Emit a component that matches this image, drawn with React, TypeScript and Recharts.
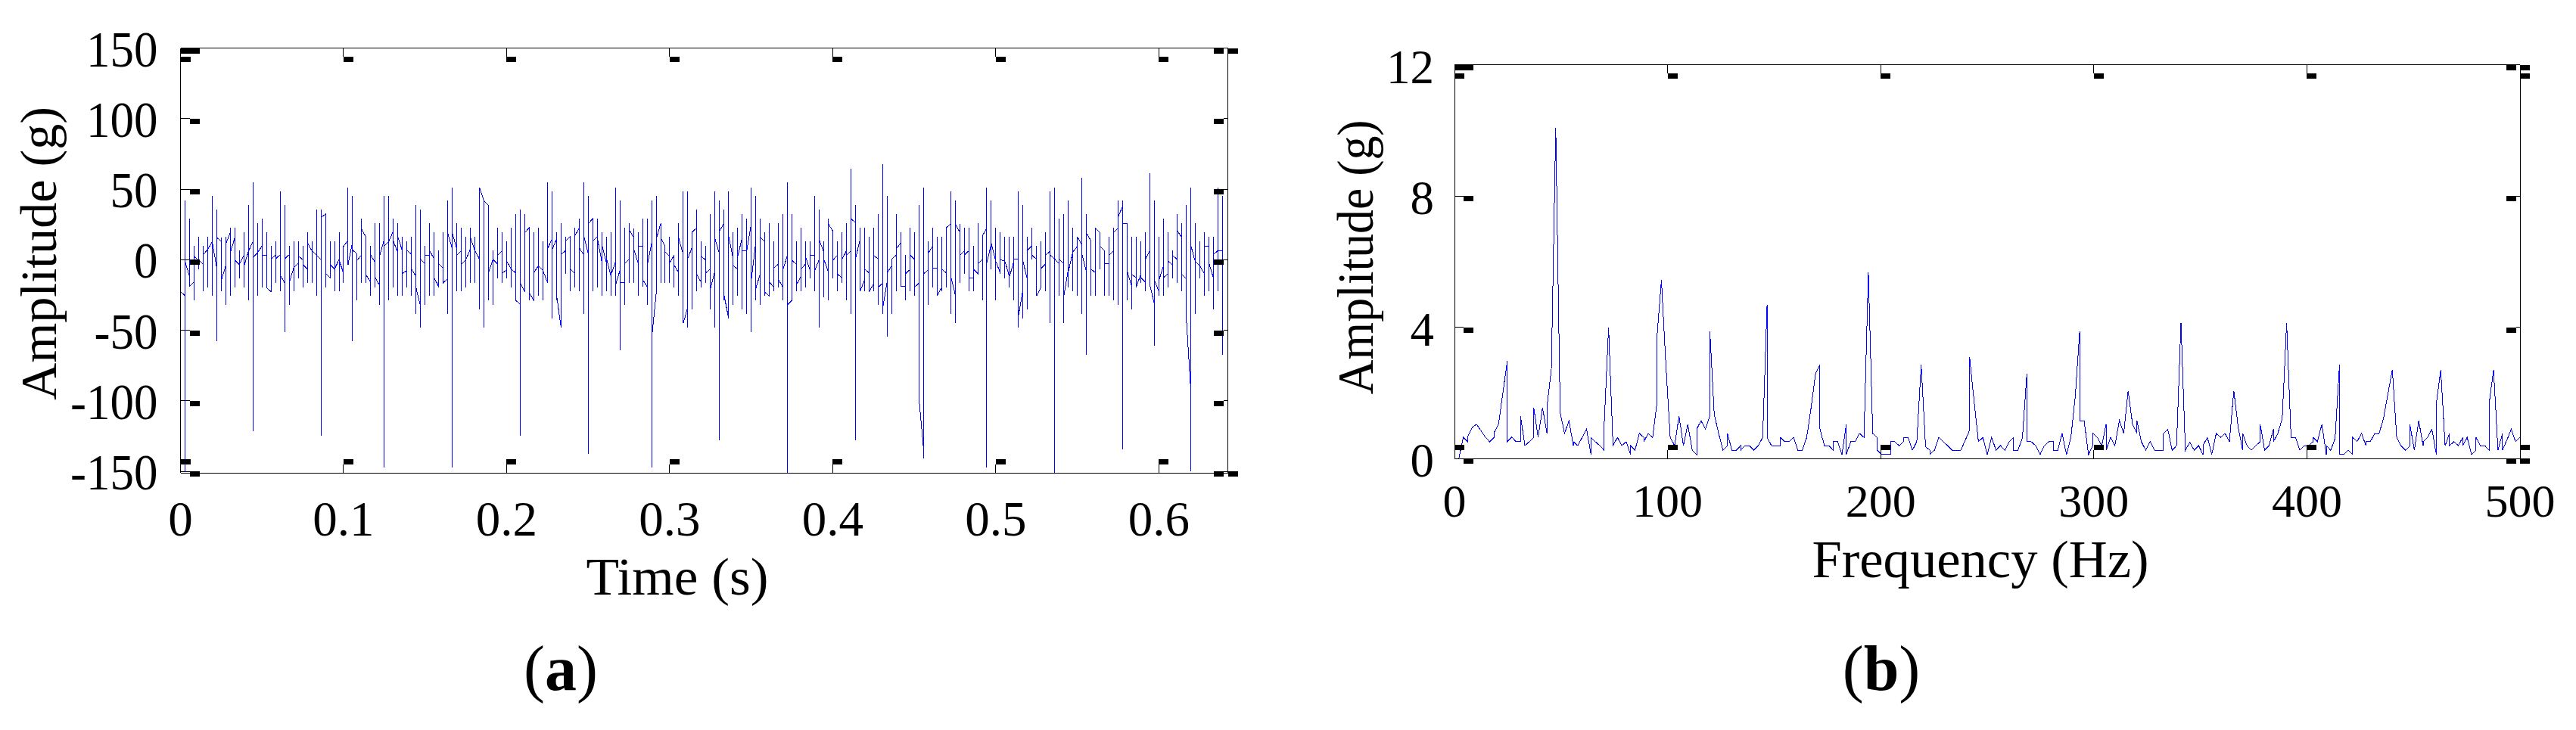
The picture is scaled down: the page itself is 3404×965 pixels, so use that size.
import React from "react";
import { LineChart, Line, XAxis, YAxis } from "recharts";

// ---- (a) time signal: each sample column is [entry, high, low, exit] in g
const signalPartA: number[][] = [
[-22.6,38.6,-35.4,-22.6],[-25.5,41.8,-150,-1.2],[-11.9,29,-19,-19],[-15.8,9.8,-29,2.3],[-0.4,16.2,-6.6,-0.4],[-3,9.8,-22.6,3.4],[7.3,16.2,-19.4,7.3],[12.6,45,-25.8,12.6],[-5.7,35.4,-57.9,15.7],[13,15.7,-22.6,-14.6],
[-4.3,16.2,-32.2,11.2],[19.2,22.6,-25.8,5],[15.7,22.6,-19.4,-0.4],[-3.4,6.6,-13,-3.4],[3.2,19.4,-19.4,-4.8],[5.9,38.6,-29,5.9],[13,54.7,-121.4,1.4],[5,25.8,-25.8,5],[9.8,29,-19.4,3.2],[3.2,19.4,-19.9,-19.9],
[-22.6,9.8,-22.6,0.5],[3.2,13,-16.2,0.5],[3.6,48.3,-22.6,-11],[-16.4,38.6,-51.5,0.5],[3.6,9.8,-32.2,-16.4],[-5.7,13,-22.6,-5.7],[-2.5,13,-13,2.8],[0,9.8,-19.4,-3.4],[-6.6,19.4,-16.2,12.1],[6.4,13,-16.2,6.4],
[3.2,35.4,-25.8,3.2],[0,35.4,-124.6,29.9],[32.2,32.2,-19.4,-9.3],[-12.8,13,-13,-3.4],[-6.6,13,-22.6,-6.6],[0,19.4,-22.6,0],[-9.8,9.8,-16.2,9.4],[13.9,51.3,-3.4,-3.4],[13,45,-57.9,6.8],[4.1,4.1,-29,-0.4],
[3.6,29,-16.2,21.5],[15.7,16.2,-16.2,-11],[-15.8,9.8,-25.8,3.2],[-2.1,25.8,-19.4,-12.8],[-18.5,25.8,-32.2,3.2],[14.4,45,-147,9.8],[13,45,-29,13],[20.5,29,-19.4,13],[5,25.8,-25.8,16.2],[5.9,16.2,-25.8,-9.8],
[-7.5,13,-19.4,6.8],[3.7,16.2,-25.8,-6.6],[-11.9,38.6,-38.6,-19.9],[-33.3,35.4,-48.3,0.2],[-3,9.8,-32.2,3.2],[3.2,25.8,-25.8,6.4],[0.5,19.4,-25.8,-12.8],[-19,6.6,-19.4,-3],[-6.2,19.4,-16.2,-16.4],[-13.4,41.8,-38.6,18.9],
[7.7,51.3,-147,18.9],[7.7,25.8,-22.6,3.2],[6.2,22.6,-22.6,-3.4],[0,16.2,-19.4,0],[7.7,22.6,-16.2,15.7],[6.2,16.2,-16.2,6.2],[0.5,51.3,-35.4,51.3],[41.8,41.8,-48.3,41.8],[38.6,38.6,-29,-9.3],[0.2,6.6,-32.2,0.2],
[-3,22.6,-13,3.2],[6.4,19.4,-16.2,-9.3],[-7.5,13,-13,-0.9],[-6.6,22.6,-19.4,-6.6],[-9.3,32.2,-28.7,-28.8],[-31.5,35.4,-124.6,-16.7],[-22.6,32.2,-22.6,19.2],[22.6,22.6,-29,-23.5],
];
const signalPartB: number[][] = [
[-28.8,19.4,-29,-9.3],[-4.3,22.6,-25.8,-4.3],[-7.5,13,-29,-7.5],[-16,54.7,-16.2,7.7],[14.4,48.3,-41.8,6.8],[14.4,19.4,-29,-24.4],[-47.9,25.8,-48.3,3.6],[6.4,16.2,-9.8,13.4],[16.2,16.2,-22.6,-6.6],[-9.4,22.6,-19.4,16.6],
[22.3,29,-22.6,8.5],[3.6,54.7,-38.6,17.5],[4.5,45,-137.5,25.5],[29,29,-22.6,13],[16.2,29,-19.4,15.7],[-1.2,19.4,-25.8,10.9],[-1.8,16.2,-22.6,1.4],[-11.6,19.4,-25.8,-11],[-1.8,51.3,-25.8,-18.2],[-7.8,41.8,-64.3,-16],
[-16,22.6,-32.2,-3],[0.2,25.8,-16.2,21.4],[16,21.9,-16.2,8.2],[-2.1,19.4,-25.8,9.8],[9.8,29,-19,-14],[-19,29,-32.2,-4.5],[11.2,41.8,-147,-56.8],[-24.4,45,-24.4,14.4],[25.5,25.8,-16.2,15.7],[9.4,9.8,-16.2,5.5],
[2.3,16.2,-16.2,-2.1],[3.2,3.2,-19.4,-3.9],[-9.3,25.8,-25.8,15.1],[3.6,48.3,-44.9,-44.9],[-33.3,48.3,-48.3,0.9],[9.4,20.1,-35.4,19.8],[22.6,35.4,-22.6,-10.5],[-16.4,13,-19.4,2.3],[-0.4,9.8,-16.2,-9.3],[-6.6,32.2,-35.4,-20.5],
[-7.5,48.3,-48.3,14.8],[4.1,41.8,-127.7,20.5],[25.8,35.4,-28.8,-25.3],[-41.3,48.3,-41.8,16.6],[0.9,19.4,-32.2,-4.3],[-6.6,22.6,-25.8,2.3],[15.7,32.2,-35.4,6.4],[6.4,29,-38.6,6.4],[25.5,51.3,-51.5,-14.6],[12.6,45,-29,-20.5],
[-9.8,29,-32.2,15.7],[12.6,19.4,-25.5,-23.1],[-25.6,25.8,-25.6,-16],[-19.4,13,-22.6,-5.7],[-3,25.8,-19.4,-14.2],[-19.4,32.2,-29,-6.9],[3.2,54.7,-151,-31.9],[-28.8,32.2,-28.8,-0.4],[-3.4,13,-22.6,-17.6],[-11.7,22.6,-22.6,-6.6],
[-3,13,-19.4,1.8],[-7.5,13,-13,3.2],[3.2,45,-22.6,-7.8],[0.2,35.4,-48.3,14.2],[5.5,13,-26.7,0.5],[-8.4,29,-29,25.5],[20.5,20.5,-13,-0.4],[3.2,13,-22.6,-10.1],[-12.8,19.4,-16.2,0],[6.2,25.8,-29,3.2],
[6.2,64.3,-38.6,29],[26.4,38.6,-127.7,0.5],[13.9,22.6,-22.6,-22.3],[-14.6,22.6,-22.6,-6.6],[-9.3,16.2,-22.6,-22.6],[-17.3,22.6,-22.6,3.2],
];
const signalPartC: number[][] = [
[0.5,32.2,-32.2,-19.6],[-16.7,67.5,-38.6,-34.7],[-15.8,45,-54.7,-9.3],[-4.3,0.5,-38.6,0.5],
[3.2,32.2,-22.6,7.7],[11.8,19.4,-19,-19],[-19,3.2,-29,-10.1],[-7.1,22.6,-22.6,3.6],[0.2,19.4,-25.8,-19.6],[-16.7,38.6,-97.4,-97.4],[-133,51.3,-140.7,-10.1],[-7.5,13,-32.2,4.1],[9.4,22.6,-19.4,-6.2],[-6.2,16.2,-25.8,-25.6],
[-19.9,16.2,-22.6,-6.6],[-9.3,22.6,-19.4,22.4],[25.5,48.3,-38.6,-11],[-24.4,41.8,-45,25.5],[19.8,25.5,-16.2,3],[6.2,22.6,-9.8,3.2],[6.2,22.6,-22.6,-12.8],[-12.8,9.8,-22.6,-6.6],[-9.8,25.8,-9.8,-3],[0.2,16.9,-29,16.9],
[22.3,51.3,-147,-2.1],[11.2,41.8,-6.6,11.2],[-1.2,22.6,-29,-1.2],[-9.6,19.4,-9.8,0.2],[-1.2,16.2,-13,-1.2],[-11.9,16.2,-19.4,-11.9],[-1.2,16.2,-29,0.2],[0.2,48.3,-48.3,-39.5],[-20.8,38.6,-41.8,-1.2],[-14.6,16.2,-35.4,6.8],
[10,22.6,0.2,3.2],[0.2,9.8,-25.8,-25.6],[-19.6,13,-19.4,-6.1],[-3,19.4,-22.6,3.2],[6.2,48.3,-45,3.2],[0.5,51.3,-151,0.5],[-3,29,-25.8,0.2],[-3,32.2,-45,-25.8],[-6.6,41.8,-19.4,-8.4],[5.5,22.6,-22.6,5.5],
[9.4,16.2,-25.8,16.2],[10.3,57.9,-38.6,4.1],[-8.9,32.2,-67.5,18.7],[13.4,13,-25.8,-6.6],[-9.3,22.6,-25.8,22.4],[19.2,19.2,-6.6,9.4],[6.4,6.4,-25.8,-3],[-3,16.2,-25.8,3.2],[6.4,22.6,-29,19.2],[22.4,41.8,-32.2,30.4],
[37.9,41.8,-134.3,25.5],[25.5,25.5,-29,-8.4],[-19,16.2,-35.4,-10.5],[-12.8,16.2,-19.4,-19],[-10.5,13,-16.2,-12.8],[-16,19.4,-22.6,0.5],[6.4,61.1,-17.7,-17.7],[-31.5,41.8,-61,-14.6],[-22.6,16.2,-25.8,-14.6],[-4.3,29,-25.8,-12.8],
[-9.8,19.4,-19.4,-0.9],[-3.6,6.6,-13,3.2],[0.2,32.2,-16.2,20.7],[16,25.8,-22.6,-10.5],[-13.2,38.6,-39.5,-39.5],[-90.3,51.3,-150,10.7],[-1.2,25.8,-38.6,-1.2],[-4.3,13,-13,-4.3],[-9.8,19.4,-25.8,9.8],[9.8,16.2,-22.6,-2.1],
[-12.5,16.2,-35.4,3.6],[6.4,51.3,-22.6,6.4],[6.4,45,-67.5,6.4],
];
const timeStep = 0.002778;
const timeTicks = [0, 0.1, 0.2, 0.3, 0.4, 0.5, 0.6];
const signalTicks = [-150, -100, -50, 0, 50, 100, 150];

// ---- (b) spectrum: amplitudes (g) visited in each frequency bin
const spectrumLow: number[][] = [
[0],[0],[0.64],[0.51,0.67],[0.94],[1.04],[0.85],[0.65],[0.51],[0.64,0.79],[1.04],[2],[2.98,0.51],[0.65],[0.51],[0.51,1.29],[0.39],[0.51],[0.64,1.55],[0.64],
[1.55],[0.76,1.57],[2.71],[10.07],[1.4],[0.76],[1.15],[0.39,0.51],[0.39],[0.64],[0.89],[0.12,0.64],[0.51],[0.39],[0.25,1.04],[3.99],[0.39],[0.64],[0.39],[0.51],
[0.12,0.39],[0.25],[0.76],[0.64,0.51],[0.76],[0.64],[1.7,3.72],[5.43],[2.89],[0.64],[0.39],[1.29],[0.39],[1.04],[0.25],[0.12,0.89],[1.15],[0.89],[1.29,3.88],[1.35],
[0.76],[0.25],[0.39,0.76],[0.25],[0.25],[0.39,0.25],[0.39],[0.39],[0.25],[0.39],[0.64],[4.67,0.64],[0.39],[0.39],[0.39,0.64],[0.51],[0.51],[0.64],[0.25],[0.25],
[0.64],[1.55],[2.58],
];
const spectrumMid: number[][] = [
[2.85,0.91],[0.39],[0.39],[0.25,0.51],[0.51],[0.12],[1.04,0.12],[0.51],[0.51],[0.76],[0.64],[5.67],[0.76],[0.64,0.25],[0.12],[0.12],[0.12,0.51],[0.51],[0.39],[0.51,0.64],
[0.64],[0.25],[0.51],[2.85],[0.35],[0.25,0.12],[0.25],[0.64],[0.51],[0.39],[0.25],[0.25],[0.25],[0.55],[0.86,3.08],[1.76],[0.51],[0.64],[0.12],[0.64],
[0.25],[0.39],[0.25],[0.51],[0.64,0.25],[0.25],[0.64],[2.58,0.51],[0.51],[0.39],[0.12],[0.39],[0.51],[0.51,0.25],[0.25],[0.76],[0.12],[0.64],[1.9],[3.88,1.15],
[1.15],[0.12],[0.39,0.76],[0.64],[0.39],[1.04,0.25],[0.64],[0.39],[1.15],[0.76],[2.06],[1.04],[0.76,1.15],[0.51],[0.25],[0.51],[0.25],[0.25],[0.25,0.76],[0.89],
[0.25],[0.39],[4.13],
];
const spectrumHigh: number[][] = [
[0.25],[0.49],[0.25],[0.39],[0.12,0.39],[0.64],[0.12],[0.76],[0.64],[0.76],[0.51],[2.06],[0.95],[0.25,0.76],[0.39],[0.25],[0.39],[0.51,1.04],[0.25],[0.39],
[0.89,0.51],[0.76],[1.22],[4.13],[0.64],[0.64],[0.25],[0.39],[0.39],[0.51,0.64],[0.51],[1.04],[0.12,0.39],[0.25],[0.6],[2.85,0.12],[0.12],[0.25],[0.12,0.64],[0.51],
[0.76],[0.39,0.51],[0.51],[0.76],[0.76],[1.22],[1.96],[2.7],[0.64],[0.38],[0.25],[0.38,1.04],[0.25],[1.15],[0.39,0.51],[0.64],[0.89],[0.12,1.68],[2.7],[0.39],
[0.76,0.39],[0.51],[0.39],[0.64,0.39],[0.64],[0.12],[0.25,0.64],[0.39],[0.39],[0.25,1.68],[2.7],[0.25],[0.76,0.25],[0.55],[0.89],[0.51],[0.64],
];
const frequencyTicks = [0, 100, 200, 300, 400, 500];
const spectrumTicks = [0, 4, 8, 12];

const signalData = [...signalPartA, ...signalPartB, ...signalPartC].flatMap((column, i) =>
  column.map((g) => ({ t: i * timeStep, g }))
);
const spectrumBins = [...spectrumLow, ...spectrumMid, ...spectrumHigh];
const binWidth = 500 / (spectrumBins.length - 1);
const spectrumData = spectrumBins.flatMap((bin, i) => bin.map((a) => ({ f: i * binWidth, a })));

const serif = "'Liberation Serif', 'Times New Roman', serif";
const crisp = "crispEdges" as const;

type TickProps = { x: number; y: number; payload: { value: number } };
const Blob = ({ x, y, w = 13, h = 7 }: { x: number; y: number; w?: number; h?: number }) => (
  <rect x={x} y={y} width={w} height={h} fill="#000" shapeRendering={crisp} />
);
const Stem = ({ x1, y1, x2, y2 }: { x1: number; y1: number; x2: number; y2: number }) => (
  <line x1={x1} y1={y1} x2={x2} y2={y2} stroke="#000" strokeWidth={1} shapeRendering={crisp} />
);

const bottomTick = (baseline: number, size: number, lastValue: number | null) => ({ x, y, payload }: TickProps) => (
  <g>
    <Stem x1={x} y1={y} x2={x} y2={y - 11} />
    <Blob x={x} y={y - 18} />
    {payload.value === lastValue ? <Blob x={x} y={y} /> : null}
    <text x={x} y={y + baseline} textAnchor="middle" fontFamily={serif} fontSize={size} fill="#000">{payload.value}</text>
  </g>
);
const topTick = (lastValue: number | null) => ({ x, y, payload }: TickProps) => (
  <g>
    <Stem x1={x} y1={y} x2={x} y2={y + 11} />
    <Blob x={x} y={y + 11} />
    {payload.value === lastValue ? <Blob x={x} y={y} /> : null}
  </g>
);
const leftTick = (inset: number, gap: number, size: number, stretch: number, topValue: number) => ({ x, y, payload }: TickProps) => (
  <g>
    <Stem x1={x} y1={y} x2={x + inset} y2={y} />
    <Blob x={x + inset} y={y} />
    {payload.value === topValue ? <Blob x={x} y={y} w={inset + 1} /> : null}
    <text
      transform={`translate(${x - gap},${y + 24}) scale(1,${stretch})`}
      textAnchor="end"
      fontFamily={serif}
      fontSize={size}
      fill="#000"
    >
      {payload.value}
    </text>
  </g>
);
const rightTick = (inset: number, bottomValue: number, topValue: number) => ({ x, y, payload }: TickProps) => (
  <g>
    <Stem x1={x} y1={y} x2={x - inset} y2={y} />
    <Blob x={x - inset - 13} y={y} />
    {payload.value === bottomValue || payload.value === topValue ? <Blob x={x} y={y} /> : null}
  </g>
);

const SideLabel = ({ x, y, length, children }: { x: number; y: number; length: number; children: string }) => (
  <text
    transform={`translate(${x},${y}) rotate(-90)`}
    textAnchor="middle"
    fontFamily={serif}
    fontSize={68}
    fill="#000"
    textLength={length}
    lengthAdjust="spacingAndGlyphs"
  >
    {children}
  </text>
);
const Caption = ({ x, letter }: { x: number; letter: string }) => (
  <text x={x} y={912} textAnchor="middle" fontFamily={serif} fontSize={84} fill="#000">
    (<tspan fontWeight="bold">{letter}</tspan>)
  </text>
);

const axisLine = { stroke: "#000", strokeWidth: 1, shapeRendering: crisp };
const axisCommon = { axisLine, tickLine: false, tickSize: 0, tickMargin: 0, interval: 0 as const };

export default function App() {
  return (
    <div style={{ position: "absolute", left: 0, top: 0, width: 3404, height: 965, background: "#fff", overflow: "hidden" }}>
      <div style={{ position: "absolute", left: 0, top: 0 }}>
        <LineChart width={1702} height={965} data={signalData} margin={{ top: 62.5, right: 78.5, bottom: 339, left: 237.5 }}>
          <XAxis xAxisId="b" dataKey="t" type="number" domain={[0, 0.6423]} ticks={timeTicks} orientation="bottom" height={1} {...axisCommon} tick={bottomTick(83, 65, null) as any} />
          <XAxis xAxisId="t" dataKey="t" type="number" domain={[0, 0.6423]} ticks={timeTicks} orientation="top" height={1} {...axisCommon} tick={topTick(null) as any} />
          <YAxis yAxisId="l" dataKey="g" type="number" domain={[-150, 150]} ticks={signalTicks} orientation="left" width={1} {...axisCommon} tick={leftTick(12, 30, 63, 1.08, 150) as any} />
          <YAxis yAxisId="r" dataKey="g" type="number" domain={[-150, 150]} ticks={signalTicks} orientation="right" width={1} {...axisCommon} tick={rightTick(6, -150, 150) as any} />
          <Line xAxisId="b" yAxisId="l" dataKey="g" type="linear" stroke="#0000ff" strokeWidth={1} dot={false} activeDot={false} isAnimationActive={false} shapeRendering={crisp} />
          <Line xAxisId="t" yAxisId="r" dataKey="g" type="linear" stroke="none" strokeWidth={0} dot={false} activeDot={false} legendType="none" isAnimationActive={false} />
          <SideLabel x={74} y={335} length={388}>Amplitude (g)</SideLabel>
          <text x={895} y={786} textAnchor="middle" fontFamily={serif} fontSize={70} fill="#000" textLength={241} lengthAdjust="spacingAndGlyphs">Time (s)</text>
          <Caption x={741} letter="a" />
        </LineChart>
      </div>
      <div style={{ position: "absolute", left: 1702, top: 0 }}>
        <LineChart width={1702} height={965} data={spectrumData} margin={{ top: 84.5, right: 73, bottom: 358, left: 219 }}>
          <XAxis xAxisId="b" dataKey="f" type="number" domain={[0, 500]} ticks={frequencyTicks} orientation="bottom" height={1} {...axisCommon} tick={bottomTick(77, 62, 500) as any} />
          <XAxis xAxisId="t" dataKey="f" type="number" domain={[0, 500]} ticks={frequencyTicks} orientation="top" height={1} {...axisCommon} tick={topTick(500) as any} />
          <YAxis yAxisId="l" dataKey="a" type="number" domain={[0, 12]} ticks={spectrumTicks} orientation="left" width={1} {...axisCommon} tick={leftTick(12, 27, 63, 1, 12) as any} />
          <YAxis yAxisId="r" dataKey="a" type="number" domain={[0, 12]} ticks={spectrumTicks} orientation="right" width={1} {...axisCommon} tick={rightTick(5, 0, 12) as any} />
          <Line xAxisId="b" yAxisId="l" dataKey="a" type="linear" stroke="#0000ff" strokeWidth={1} dot={false} activeDot={false} isAnimationActive={false} shapeRendering={crisp} />
          <Line xAxisId="t" yAxisId="r" dataKey="a" type="linear" stroke="none" strokeWidth={0} dot={false} activeDot={false} legendType="none" isAnimationActive={false} />
          <SideLabel x={112} y={340} length={363}>Amplitude (g)</SideLabel>
          <text x={915} y={763} textAnchor="middle" fontFamily={serif} fontSize={70} fill="#000" textLength={445} lengthAdjust="spacingAndGlyphs">Frequency (Hz)</text>
          <Caption x={784} letter="b" />
        </LineChart>
      </div>
    </div>
  );
}
